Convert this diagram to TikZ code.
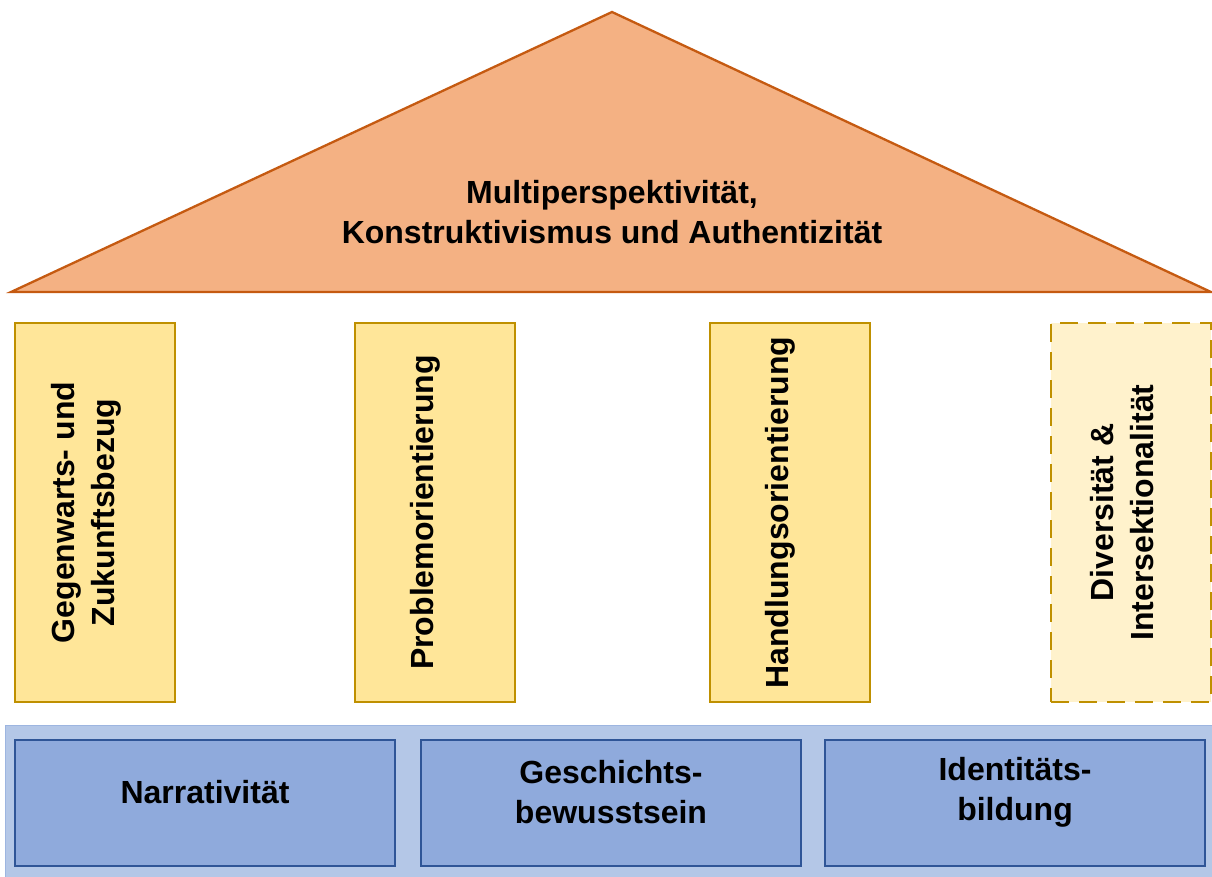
\documentclass[tikz,border=0pt]{standalone}
\usepackage{fontspec}
\setmainfont{Liberation Sans}
\definecolor{roofFill}{HTML}{F4B183}
\definecolor{roofLine}{HTML}{C55A11}
\definecolor{pillarFill}{HTML}{FFE699}
\definecolor{pillarLine}{HTML}{BF9000}
\definecolor{pillarLight}{HTML}{FFF2CC}
\definecolor{baseFill}{HTML}{B4C7E7}
\definecolor{baseLine}{HTML}{9DB5E0}
\definecolor{boxFill}{HTML}{8FAADC}
\definecolor{boxLine}{HTML}{2F5597}

\begin{document}
\begin{tikzpicture}[x=1pt, y=-1pt,
    pillar/.style={draw=pillarLine, line width=2pt, fill=pillarFill,
      minimum width=160pt, minimum height=379pt, inner sep=0pt},
    basebox/.style={draw=boxLine, line width=2pt, fill=boxFill,
      minimum width=380pt, minimum height=126pt, inner sep=0pt},
    label text/.style={font=\fontsize{32}{40}\selectfont\bfseries, align=center, inner sep=0pt}]
  \useasboundingbox (0,0) rectangle (1212,876);
  % Roof
  \coordinate (apex) at (612,12);
  \coordinate (eaveL) at (11,292);
  \coordinate (eaveR) at (1211,292);
  \draw[roofLine, fill=roofFill, line width=2.3pt, line join=miter] (eaveL) -- (apex) -- (eaveR) -- cycle;
  \node[label text] (roof) at (612,212) {Multiperspektivität,\\Konstruktivismus und Authentizität};
  % Pillars
  \node[pillar] (gegenwart) at (95,512.5) {};
  \node[pillar] (problem) at (434.5,512.5) {};
  \node[pillar] (handlung) at (789.5,512.5) {};
  \node[pillar, fill=pillarLight, dash pattern=on 18pt off 10pt] (diversitaet) at (1131,512.5) {};
  \node[label text, rotate=90] at ([xshift=-9pt]gegenwart.center) {Gegenwarts- und\\Zukunftsbezug};
  \node[label text, rotate=90] at ([xshift=-9pt]problem.center) {Problemorientierung};
  \node[label text, rotate=90] at ([xshift=-9pt]handlung.center) {Handlungsorientierung};
  \node[label text, rotate=90] at ([xshift=-9pt]diversitaet.center) {Diversität \&\\Intersektionalität};
  % Base
  \draw[baseLine, fill=baseFill, line width=1pt] (5,725) rectangle (1216,880);
  \node[basebox] (narrativ) at (205,803) {};
  \node[basebox] (bewusst) at (611,803) {};
  \node[basebox] (identitaet) at (1015,803) {};
  \node[label text] at ([yshift=11pt]narrativ.center) {Narrativität};
  \node[label text] at ([yshift=11pt]bewusst.center) {Geschichts-\\bewusstsein};
  \node[label text] at ([yshift=11pt]identitaet.center) {Identitäts-\\bildung};
\end{tikzpicture}
\end{document}
